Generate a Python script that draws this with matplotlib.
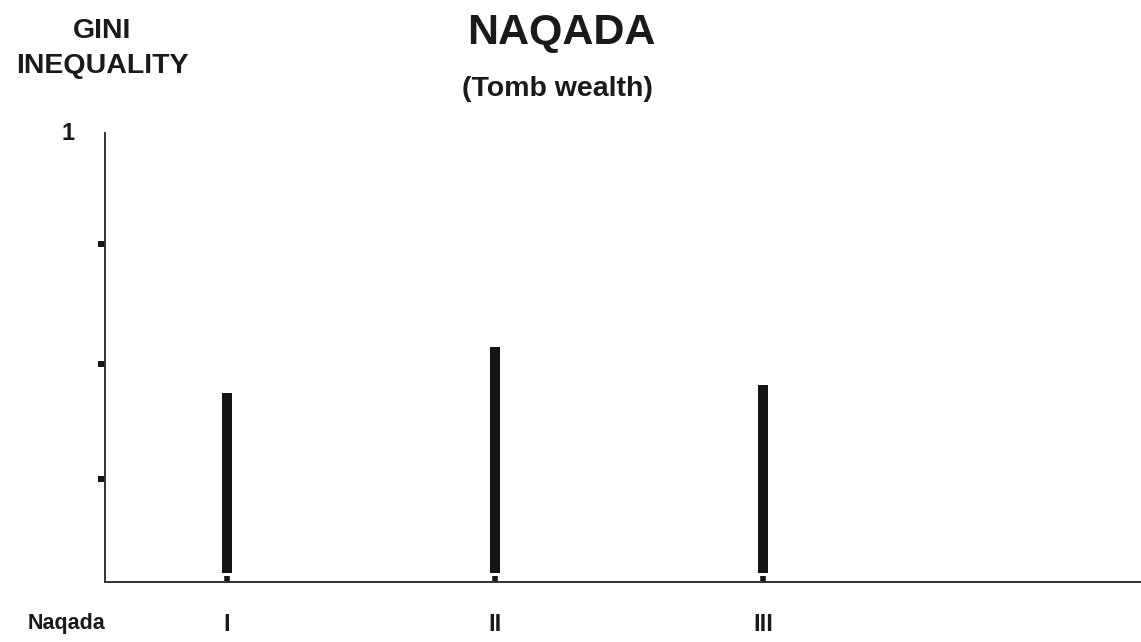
import matplotlib
matplotlib.use("Agg")
import matplotlib.pyplot as plt

plt.rcParams['font.family'] = ['Liberation Sans', 'DejaVu Sans']
plt.rcParams['font.weight'] = 'bold'

periods = ["I", "II", "III"]
gini = [0.42, 0.523, 0.439]
y_minor_ticks = [0.23, 0.485, 0.753]
y_major_ticks = [1]
y_major_labels = ["1"]

fig = plt.figure(figsize=(11.41, 6.42), dpi=100)
ax = fig.add_axes([0.092, 0.0935, 0.908, 0.6993])

x = list(range(1, len(periods) + 1))
bar_bottom = 0.02
ax.vlines(x, bar_bottom, gini, color='#151515', linewidth=7.2, capstyle='butt')

ax.set_xlim(0.545, 4.41)
ax.set_ylim(0, 1)

for s in ['top', 'right']:
    ax.spines[s].set_visible(False)
for s in ['left', 'bottom']:
    ax.spines[s].set_color('#333333')
    ax.spines[s].set_linewidth(1.4)

ax.set_xticks(x)
ax.set_xticklabels(periods, fontsize=17, fontweight='bold', color='#1a1a1a')
ax.tick_params(axis='x', direction='in', length=4.5, width=4.0, color='#151515', pad=22)

ax.set_yticks(y_major_ticks)
ax.set_yticklabels(y_major_labels, fontsize=17, fontweight='bold', color='#1a1a1a')
ax.tick_params(axis='y', which='major', length=0, pad=22)
ax.set_yticks(y_minor_ticks, minor=True)
ax.tick_params(axis='y', which='minor', direction='out', length=5, width=4.3, color='#151515')
for lbl in ax.get_yticklabels():
    lbl.set_va('center')

fig.text(561 / 1141, 1 - 33 / 642, "NAQADA", ha='center', va='center',
         fontsize=31, fontweight='bold', color='#1a1a1a')
fig.text(557 / 1141, 1 - 89 / 642, "(Tomb wealth)", ha='center', va='center',
         fontsize=20.5, fontweight='bold', color='#1a1a1a')
fig.text(102 / 1141, 1 - 31 / 642, "GINI", ha='center', va='center',
         fontsize=20.5, fontweight='bold', color='#1a1a1a')
fig.text(102 / 1141, 1 - 66 / 642, "INEQUALITY", ha='center', va='center',
         fontsize=20.5, fontweight='bold', color='#1a1a1a')
fig.text(28 / 1141, 1 - 623 / 642, "Naqada", ha='left', va='center',
         fontsize=15.5, fontweight='bold', color='#1a1a1a')

fig.savefig("out.png", dpi=100)
